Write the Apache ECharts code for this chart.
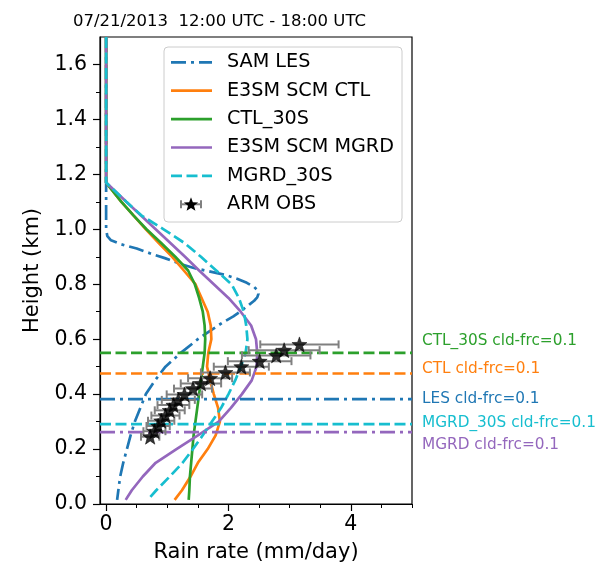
<!DOCTYPE html>
<html>
<head>
<meta charset="utf-8">
<script src="https://cdn.jsdelivr.net/npm/echarts@6/dist/echarts.min.js"></script>
<style>html,body{margin:0;padding:0;background:#fff}#c{width:608px;height:568px}</style>
</head>
<body>
<div id="c"></div>
<script>
// ---------------- data ----------------
const modelHeights = [1.7, 1.17, 1.1, 1.05, 1.0, 0.95, 0.9, 0.85, 0.8, 0.75, 0.7, 0.65, 0.6, 0.55, 0.5, 0.45, 0.4, 0.35, 0.3, 0.25, 0.2, 0.15, 0.1, 0.05, 0.015];
const ctlRain    = [0, 0, 0.25, 0.45, 0.65, 0.86, 1.08, 1.27, 1.46, 1.56, 1.66, 1.71, 1.72, 1.67, 1.65, 1.70, 1.76, 1.83, 1.86, 1.79, 1.66, 1.50, 1.38, 1.24, 1.12];
const ctl30Rain  = [0, 0, 0.25, 0.45, 0.66, 0.90, 1.13, 1.34, 1.45, 1.52, 1.58, 1.61, 1.62, 1.61, 1.58, 1.55, 1.52, 1.49, 1.46, 1.43, 1.41, 1.39, 1.37, 1.36, 1.35];
const mgrdRain   = [0, 0, 0.33, 0.57, 0.81, 1.05, 1.29, 1.52, 1.76, 2.00, 2.20, 2.37, 2.45, 2.47, 2.46, 2.38, 2.22, 2.04, 1.84, 1.50, 1.15, 0.81, 0.60, 0.42, 0.32];
const mgrd30Rain = [0, 0, 0.33, 0.58, 0.94, 1.28, 1.55, 1.80, 2.05, 2.17, 2.25, 2.29, 2.31, 2.28, 2.20, 2.11, 2.00, 1.88, 1.73, 1.58, 1.42, 1.25, 1.04, 0.82, 0.68];

const lesHeights = [1.7, 1.0, 0.975, 0.96, 0.945, 0.93, 0.91, 0.895, 0.875, 0.86, 0.848, 0.835, 0.82, 0.805, 0.79, 0.777, 0.765, 0.752, 0.74, 0.726, 0.705, 0.683, 0.66, 0.635, 0.6, 0.55, 0.5, 0.45, 0.4, 0.35, 0.3, 0.25, 0.2, 0.15, 0.1, 0.05, 0.015];
const lesRain    = [0, 0, 0.02, 0.08, 0.25, 0.5, 0.75, 0.96, 1.2, 1.42, 1.66, 1.93, 2.14, 2.3, 2.42, 2.48, 2.49, 2.47, 2.42, 2.34, 2.22, 2.08, 1.9, 1.73, 1.50, 1.22, 0.97, 0.80, 0.65, 0.56, 0.47, 0.40, 0.34, 0.28, 0.23, 0.20, 0.18];

const obsHeights = [0.581, 0.560, 0.541, 0.520, 0.500, 0.479, 0.458, 0.439, 0.420, 0.399, 0.379, 0.360, 0.341, 0.322, 0.303, 0.284, 0.265, 0.245];
const obsRain    = [3.16, 2.91, 2.78, 2.51, 2.21, 1.95, 1.70, 1.55, 1.42, 1.28, 1.18, 1.10, 1.04, 0.97, 0.90, 0.85, 0.79, 0.72];
const obsErr     = [0.64, 0.58, 0.56, 0.52, 0.45, 0.40, 0.36, 0.33, 0.31, 0.29, 0.27, 0.26, 0.245, 0.23, 0.215, 0.19, 0.18, 0.15];

const cldNames  = ['CTL_30S cld-frc=0.1', 'CTL cld-frc=0.1', 'LES cld-frc=0.1', 'MGRD_30S cld-frc=0.1', 'MGRD cld-frc=0.1'];
const cldLevels = [0.550, 0.475, 0.382, 0.291, 0.262];
const cldLabelHeights = [0.592, 0.492, 0.381, 0.296, 0.214];

const xMajorTicks = [0, 2, 4];
const xMinorTicks = [0, 0.5, 1, 1.5, 2, 2.5, 3, 3.5, 4, 4.5, 5];
const yMajorTicks = [0, 0.2, 0.4, 0.6, 0.8, 1.0, 1.2, 1.4, 1.6];
const yMinorTicks = [0.1, 0.3, 0.5, 0.7, 0.9, 1.1, 1.3, 1.5];

const legendNames = ['SAM LES', 'E3SM SCM CTL', 'CTL_30S', 'E3SM SCM MGRD', 'MGRD_30S', 'ARM OBS'];

// ---------------- styles ----------------
const C = {blue:'#1f77b4', orange:'#ff7f0e', green:'#2ca02c', purple:'#9467bd', cyan:'#17becf'};
const FONT = 'DejaVu Sans';
const LW = 2.7;
const DASH = [11, 4.5];
const DASHDOT = [15, 5, 3, 5];
const cldColors = [C.green, C.orange, C.blue, C.cyan, C.purple];
const cldTypes = [DASH, DASH, DASHDOT, DASH, DASHDOT];

function pairs(xs, ys) { return xs.map((x, i) => [x, ys[i]]); }

const profile = (name, rain, heights, color, type) => ({
  name, type: 'line', data: pairs(rain, heights), symbol: 'none', clip: true,
  lineStyle: {color, width: LW, type}, z: 3
});

const series = [
  profile('SAM LES', lesRain, lesHeights, C.blue, DASHDOT),
  profile('E3SM SCM CTL', ctlRain, modelHeights, C.orange, 'solid'),
  profile('CTL_30S', ctl30Rain, modelHeights, C.green, 'solid'),
  profile('E3SM SCM MGRD', mgrdRain, modelHeights, C.purple, 'solid'),
  profile('MGRD_30S', mgrd30Rain, modelHeights, C.cyan, DASH)
];

cldLevels.forEach((h, i) => {
  series.push({
    type: 'line', symbol: 'none', clip: true, z: 4,
    data: [[-0.1, h], [5, h]],
    lineStyle: {color: cldColors[i], width: LW, type: cldTypes[i]}
  });
});

series.push({
  type: 'custom', z: 5, clip: true,
  data: obsHeights.map((h, i) => [obsRain[i] - obsErr[i], obsRain[i] + obsErr[i], h]),
  renderItem: function (params, api) {
    const a = api.coord([api.value(0), api.value(2)]);
    const b = api.coord([api.value(1), api.value(2)]);
    const cap = 4;
    const st = {stroke: '#808080', lineWidth: 2};
    return {type: 'group', children: [
      {type: 'line', shape: {x1: a[0], y1: a[1], x2: b[0], y2: b[1]}, style: st},
      {type: 'line', shape: {x1: a[0], y1: a[1] - cap, x2: a[0], y2: a[1] + cap}, style: st},
      {type: 'line', shape: {x1: b[0], y1: b[1] - cap, x2: b[0], y2: b[1] + cap}, style: st}
    ]};
  }
});

const STAR = 'path://M50,0 L62,33 L98,35 L70,57 L80,92 L50,72 L20,92 L30,57 L2,35 L38,33 Z';
series.push({
  type: 'scatter', z: 6, symbol: STAR, symbolSize: 15,
  data: pairs(obsRain, obsHeights),
  itemStyle: {color: '#000', borderColor: '#000', borderWidth: 0.6}
});

const axisText = {color: '#000', fontFamily: FONT, fontSize: 20.5};

const option = {
  animation: false,
  backgroundColor: '#fff',
  title: {
    text: '07/21/2013  12:00 UTC - 18:00 UTC', left: 68, top: 8,
    textStyle: {color: '#000', fontFamily: FONT, fontSize: 16.5, fontWeight: 'normal'}
  },
  grid: {left: 100, right: 196, top: 37, bottom: 63, show: true, borderColor: '#000', borderWidth: 1.2, backgroundColor: 'transparent'},
  xAxis: [
    {
      type: 'value', min: -0.1, max: 5, position: 'bottom',
      name: 'Rain rate (mm/day)', nameLocation: 'middle', nameGap: 38,
      nameTextStyle: {color: '#000', fontFamily: FONT, fontSize: 21},
      axisLine: {show: true, onZero: false, lineStyle: {color: '#000', width: 1.2}},
      axisTick: {show: true, inside: false, length: 7, customValues: xMajorTicks, lineStyle: {color: '#000', width: 1.2}},
      axisLabel: Object.assign({show: true, margin: 10, customValues: xMajorTicks, formatter: v => String(v)}, axisText),
      splitLine: {show: false}
    },
    {
      type: 'value', min: -0.1, max: 5, position: 'bottom',
      axisLine: {show: false, onZero: false},
      axisTick: {show: true, inside: false, length: 4, customValues: xMinorTicks, lineStyle: {color: '#000', width: 1}},
      axisLabel: {show: false},
      splitLine: {show: false}
    }
  ],
  yAxis: [
    {
      type: 'value', min: 0, max: 1.7, position: 'left',
      name: 'Height (km)', nameLocation: 'middle', nameGap: 55, nameRotate: 90,
      nameTextStyle: {color: '#000', fontFamily: FONT, fontSize: 21},
      axisLine: {show: true, onZero: false, lineStyle: {color: '#000', width: 1.2}},
      axisTick: {show: true, inside: false, length: 7, customValues: yMajorTicks, lineStyle: {color: '#000', width: 1.2}},
      axisLabel: Object.assign({show: true, margin: 13, customValues: yMajorTicks, formatter: v => v.toFixed(1)}, axisText),
      splitLine: {show: false}
    },
    {
      type: 'value', min: 0, max: 1.7, position: 'left',
      axisLine: {show: false, onZero: false},
      axisTick: {show: true, inside: false, length: 4, customValues: yMinorTicks, lineStyle: {color: '#000', width: 1}},
      axisLabel: {show: false},
      splitLine: {show: false}
    }
  ],
  series
};

const chart = echarts.init(document.getElementById('c'), null, {renderer: 'canvas'});
chart.setOption(option);

function starPoints(cx, cy, R) {
  const r = R * 0.42, pts = [];
  for (let k = 0; k < 10; k++) {
    const ang = -Math.PI / 2 + k * Math.PI / 5;
    const rr = k % 2 === 0 ? R : r;
    pts.push([cx + rr * Math.cos(ang), cy + rr * Math.sin(ang)]);
  }
  return pts;
}

// legend + right-side labels as graphics
const g = [];
const LX0 = 164, LY0 = 47, LX1 = 402, LY1 = 222;
g.push({type: 'rect', shape: {x: LX0, y: LY0, width: LX1 - LX0, height: LY1 - LY0, r: 4},
  style: {fill: 'rgba(255,255,255,0.85)', stroke: '#cccccc', lineWidth: 1}, z: 100});
const legStyles = [
  {c: C.blue, d: DASHDOT}, {c: C.orange, d: null}, {c: C.green, d: null},
  {c: C.purple, d: null}, {c: C.cyan, d: DASH}
];
const rowY = i => 62.3 + i * 28.4;
legendNames.forEach((nm, i) => {
  const y = rowY(i);
  if (i < 5) {
    const s = legStyles[i];
    g.push({type: 'line', z: 101, shape: {x1: 171, y1: y, x2: 212, y2: y},
      style: {stroke: s.c, lineWidth: LW, lineDash: s.d || null}});
  } else {
    const st = {stroke: '#808080', lineWidth: 2};
    g.push({type: 'line', z: 101, shape: {x1: 181, y1: y, x2: 201, y2: y}, style: st});
    g.push({type: 'line', z: 101, shape: {x1: 181, y1: y - 4, x2: 181, y2: y + 4}, style: st});
    g.push({type: 'line', z: 101, shape: {x1: 201, y1: y - 4, x2: 201, y2: y + 4}, style: st});
    g.push({type: 'polygon', z: 102, shape: {points: starPoints(191, y + 0.5, 7.5)}, style: {fill: '#000'}});
  }
  g.push({type: 'text', z: 101, x: 227, y: y,
    style: {text: nm, fill: '#000', fontFamily: FONT, fontSize: 19.2, verticalAlign: 'middle', align: 'left'}});
});
cldNames.forEach((nm, i) => {
  const p = chart.convertToPixel({gridIndex: 0}, [5, cldLabelHeights[i]]);
  g.push({type: 'text', z: 101, x: p[0] + 10, y: p[1],
    style: {text: nm, fill: cldColors[i], fontFamily: FONT, fontSize: 15.3, verticalAlign: 'middle', align: 'left'}});
});
chart.setOption({graphic: g});
</script>
</body>
</html>
